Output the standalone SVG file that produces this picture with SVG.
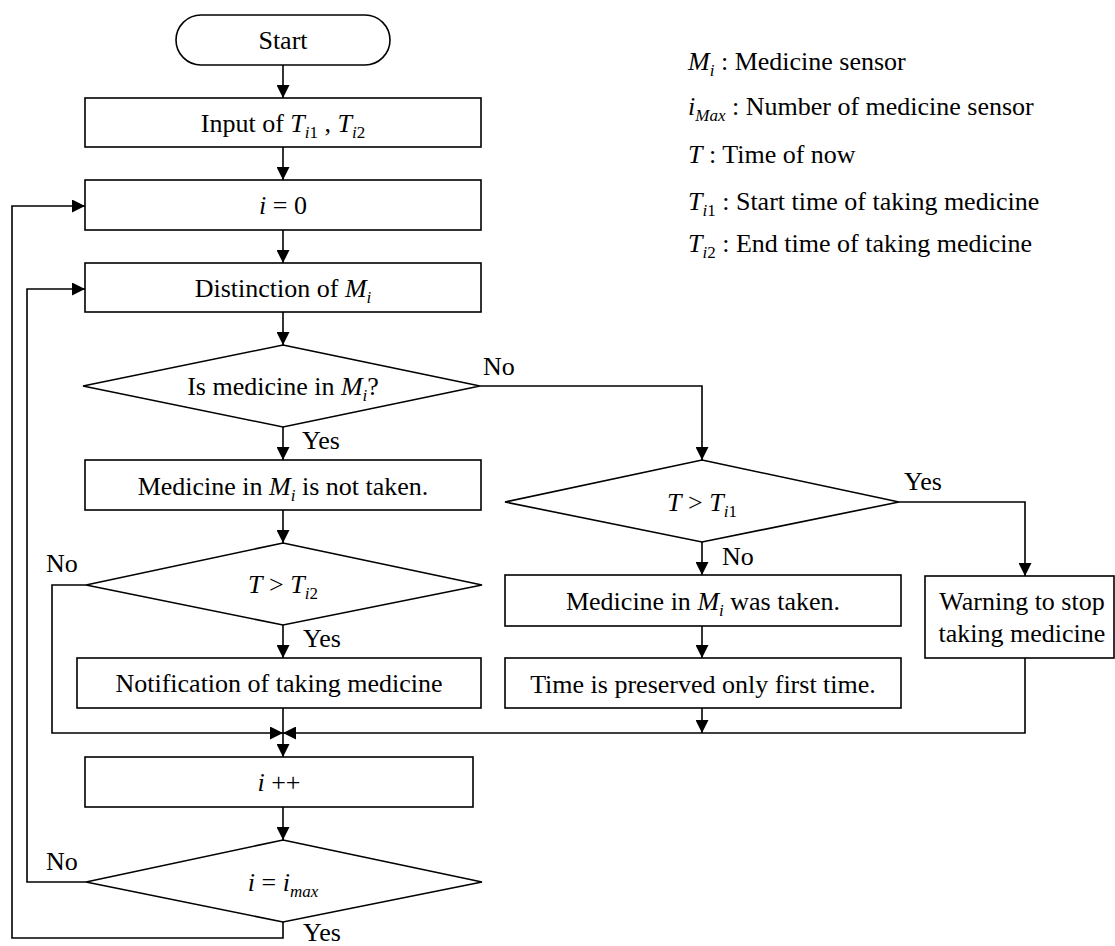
<svg xmlns="http://www.w3.org/2000/svg" width="1115" height="946" viewBox="0 0 1115 946" font-family="'Liberation Serif', 'Times New Roman', 'DejaVu Serif', serif">
<style>
text{font-family:'Liberation Serif','Times New Roman',Times,'DejaVu Serif','Noto Serif',serif;font-size:26px;fill:#000}
.c{text-anchor:middle}
.it{font-style:italic}
.sub{font-size:17px}
.shape{fill:#fff;stroke:#000;stroke-width:1.6}
.conn path{fill:none;stroke:#000;stroke-width:1.6}
</style>
<defs>
<marker id="ah" markerUnits="userSpaceOnUse" markerWidth="13" markerHeight="13" refX="13" refY="6.5" orient="auto">
<path d="M0,0 L13,6.5 L0,13 z" fill="#000"/>
</marker>
</defs>
<rect width="1115" height="946" fill="#fff"/>

<g class="conn">
<path d="M283,65 V98" marker-end="url(#ah)"/>
<path d="M283,147 V180" marker-end="url(#ah)"/>
<path d="M283,230 V263" marker-end="url(#ah)"/>
<path d="M283,312 V345" marker-end="url(#ah)"/>
<path d="M283,427 V460" marker-end="url(#ah)"/>
<path d="M480,386 H702 V460" marker-end="url(#ah)"/>
<path d="M283,510 V543" marker-end="url(#ah)"/>
<path d="M283,625 V658" marker-end="url(#ah)"/>
<path d="M86,585 H52 V733 H283" marker-end="url(#ah)"/>
<path d="M283,708 V757" marker-end="url(#ah)"/>
<path d="M899,502 H1025 V576" marker-end="url(#ah)"/>
<path d="M702,542 V575" marker-end="url(#ah)"/>
<path d="M702,626 V658" marker-end="url(#ah)"/>
<path d="M702,708 V733" marker-end="url(#ah)"/>
<path d="M1025,658 V733 H283" marker-end="url(#ah)"/>
<path d="M283,807 V840" marker-end="url(#ah)"/>
<path d="M86,882 H27 V289 H85" marker-end="url(#ah)"/>
<path d="M283,922 V938 H12 V206 H85" marker-end="url(#ah)"/>
</g>

<g id="start">
<rect class="shape" x="176" y="15" width="214" height="50" rx="25" ry="25"/>
<text class="c" x="283" y="49">Start</text>
</g>
<g id="input">
<rect class="shape" x="85" y="98" width="396" height="49"/>
<text class="c" x="283" y="132">Input of <tspan class="it">T</tspan><tspan class="sub it" dy="6">i</tspan><tspan class="sub">1</tspan><tspan dy="-6"> , </tspan><tspan class="it">T</tspan><tspan class="sub it" dy="6">i</tspan><tspan class="sub">2</tspan></text>
</g>
<g id="init">
<rect class="shape" x="85" y="180" width="396" height="50"/>
<text class="c" x="283" y="214"><tspan class="it">i</tspan> = 0</text>
</g>
<g id="distinction">
<rect class="shape" x="85" y="263" width="396" height="49"/>
<text class="c" x="283" y="297">Distinction of <tspan class="it">M</tspan><tspan class="sub it" dy="6">i</tspan></text>
</g>
<g id="d1">
<polygon class="shape" points="283,345 480,386 283,427 83,386"/>
<text class="c" x="283" y="395">Is medicine in <tspan class="it">M</tspan><tspan class="sub it" dy="6">i</tspan><tspan dy="-6">?</tspan></text>
</g>
<g id="notTaken">
<rect class="shape" x="85" y="460" width="396" height="50"/>
<text class="c" x="283" y="495">Medicine in <tspan class="it">M</tspan><tspan class="sub it" dy="6">i</tspan><tspan dy="-6"> is not taken.</tspan></text>
</g>
<g id="d3">
<polygon class="shape" points="283,543 482,585 283,625 86,585"/>
<text class="c" x="283" y="593"><tspan class="it">T</tspan> &gt; <tspan class="it">T</tspan><tspan class="sub it" dy="6">i</tspan><tspan class="sub">2</tspan></text>
</g>
<g id="notify">
<rect class="shape" x="77" y="658" width="404" height="50"/>
<text class="c" x="279" y="692">Notification of taking medicine</text>
</g>
<g id="inc">
<rect class="shape" x="85" y="757" width="388" height="50"/>
<text class="c" x="279" y="791"><tspan class="it">i</tspan> ++</text>
</g>
<g id="d4">
<polygon class="shape" points="283,840 482,882 283,922 86,882"/>
<text class="c" x="283" y="891"><tspan class="it">i</tspan> = <tspan class="it">i</tspan><tspan class="sub it" dy="6">max</tspan></text>
</g>
<g id="d2">
<polygon class="shape" points="702,460 899,502 702,542 505,502"/>
<text class="c" x="702" y="511"><tspan class="it">T</tspan> &gt; <tspan class="it">T</tspan><tspan class="sub it" dy="6">i</tspan><tspan class="sub">1</tspan></text>
</g>
<g id="taken">
<rect class="shape" x="505" y="575" width="396" height="51"/>
<text class="c" x="703" y="610">Medicine in <tspan class="it">M</tspan><tspan class="sub it" dy="6">i</tspan><tspan dy="-6"> was taken.</tspan></text>
</g>
<g id="preserve">
<rect class="shape" x="505" y="658" width="396" height="50"/>
<text class="c" x="703" y="693">Time is preserved only first time.</text>
</g>
<g id="warning">
<rect class="shape" x="925" y="576" width="189" height="82"/>
<text class="c" x="1022" y="610">Warning to stop</text>
<text class="c" x="1022" y="642">taking medicine</text>
</g>

<g id="labels">
<text x="483" y="375">No</text>
<text x="302" y="449">Yes</text>
<text x="46" y="572">No</text>
<text x="303" y="647">Yes</text>
<text x="904" y="490">Yes</text>
<text x="722" y="565">No</text>
<text x="46" y="870">No</text>
<text x="303" y="941">Yes</text>
</g>

<g id="legend">
<text x="688" y="70"><tspan class="it">M</tspan><tspan class="sub it" dy="6">i</tspan><tspan dy="-6"> : Medicine sensor</tspan></text>
<text x="688" y="115"><tspan class="it">i</tspan><tspan class="sub it" dy="6">Max</tspan><tspan dy="-6"> : Number of medicine sensor</tspan></text>
<text x="688" y="163"><tspan class="it">T</tspan> : Time of now</text>
<text x="688" y="210"><tspan class="it">T</tspan><tspan class="sub it" dy="6">i</tspan><tspan class="sub">1</tspan><tspan dy="-6"> : Start time of taking medicine</tspan></text>
<text x="688" y="252"><tspan class="it">T</tspan><tspan class="sub it" dy="6">i</tspan><tspan class="sub">2</tspan><tspan dy="-6"> : End time of taking medicine</tspan></text>
</g>
</svg>
